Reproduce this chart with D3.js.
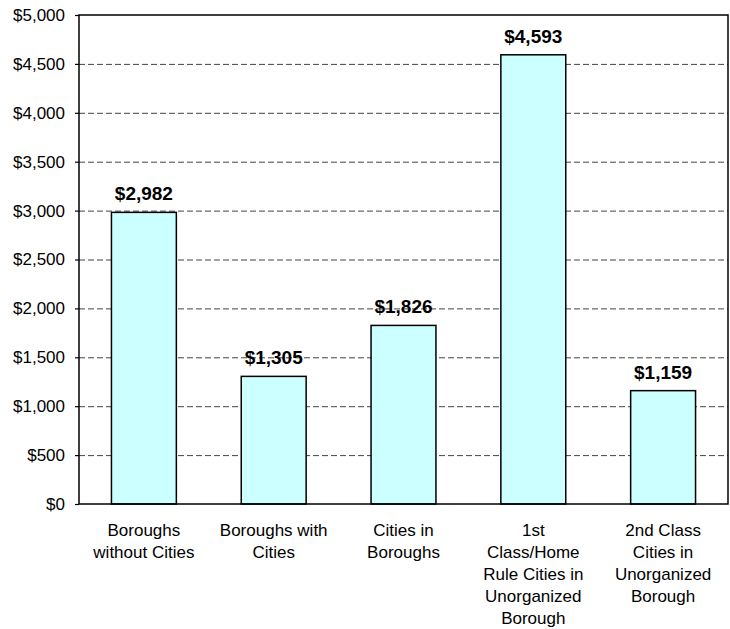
<!DOCTYPE html>
<html>
<head>
  <meta charset="UTF-8"/>
  <style>
    body { margin: 0; background: #fff; font-family: Arial, 'Liberation Sans', sans-serif; }
    .tick text { font-size: 17px; fill: #000; }
    .cat { font-size: 17px; fill: #000; }
    .val { font-size: 19px; font-weight: bold; fill: #000; }
  </style>
  <script src="https://d3js.org/d3.v7.min.js"></script>
</head>
<body>
<svg width="730" height="629"></svg>
<script>
var categories = [
  ["Boroughs", "without Cities"],
  ["Boroughs with", "Cities"],
  ["Cities in", "Boroughs"],
  ["1st", "Class/Home", "Rule Cities in", "Unorganized", "Borough"],
  ["2nd Class", "Cities in", "Unorganized", "Borough"]
];
var values = [2982, 1305, 1826, 4593, 1159];
var yTicks = [0, 500, 1000, 1500, 2000, 2500, 3000, 3500, 4000, 4500, 5000];

var svg = d3.select("svg"),
    margin = {top: 15, right: 2, bottom: 125, left: 79},
    width = +svg.attr("width") - margin.left - margin.right,
    height = +svg.attr("height") - margin.top - margin.bottom;

var x = d3.scaleBand().domain(d3.range(values.length)).range([0, width]).paddingInner(0.5).paddingOuter(0.25),
    y = d3.scaleLinear().domain([0, 5000]).range([height, 0]);

var g = svg.append("g")
  .attr("transform", "translate(" + margin.left + "," + margin.top + ")");

// dashed gridlines
g.selectAll(".grid")
  .data(yTicks.filter(function(d) { return d > 0 && d < 5000; }))
  .enter().append("line")
    .attr("x1", 0).attr("x2", width)
    .attr("y1", function(d) { return y(d) + 0.5; })
    .attr("y2", function(d) { return y(d) + 0.5; })
    .attr("stroke", "#444")
    .attr("stroke-width", 1)
    .attr("stroke-dasharray", "6,3");

// y axis
var yAxis = g.append("g")
  .call(d3.axisLeft(y).tickValues(yTicks).tickSize(4).tickPadding(10).tickFormat(d3.format("$,")));
yAxis.select(".domain").remove();
yAxis.selectAll(".tick line").attr("stroke", "#000").attr("stroke-width", 1.2);
yAxis.selectAll("text").style("font-family", "Arial, 'Liberation Sans', sans-serif");

// bars
g.selectAll(".bar")
  .data(values)
  .enter().append("rect")
    .attr("x", function(d, i) { return x(i); })
    .attr("y", function(d) { return y(d); })
    .attr("width", x.bandwidth())
    .attr("height", function(d) { return height - y(d); })
    .attr("fill", "#ccffff")
    .attr("stroke", "#000")
    .attr("stroke-width", 1.5);

// value labels
g.selectAll(".val")
  .data(values)
  .enter().append("text")
    .attr("class", "val")
    .attr("x", function(d, i) { return x(i) + x.bandwidth() / 2; })
    .attr("y", function(d) { return y(d) - 12; })
    .attr("text-anchor", "middle")
    .text(function(d) { return d3.format("$,")(d); });

// plot border
g.append("rect")
  .attr("x", 0).attr("y", 0)
  .attr("width", width).attr("height", height)
  .attr("fill", "none")
  .attr("stroke", "#000")
  .attr("stroke-width", 1.5);

// category labels
categories.forEach(function(lines, i) {
  var t = g.append("text")
    .attr("class", "cat")
    .attr("text-anchor", "middle")
    .attr("x", x(i) + x.bandwidth() / 2)
    .attr("y", height + 32);
  lines.forEach(function(s, j) {
    t.append("tspan")
      .attr("x", x(i) + x.bandwidth() / 2)
      .attr("dy", j === 0 ? 0 : 22)
      .text(s);
  });
});
</script>
</body>
</html>
